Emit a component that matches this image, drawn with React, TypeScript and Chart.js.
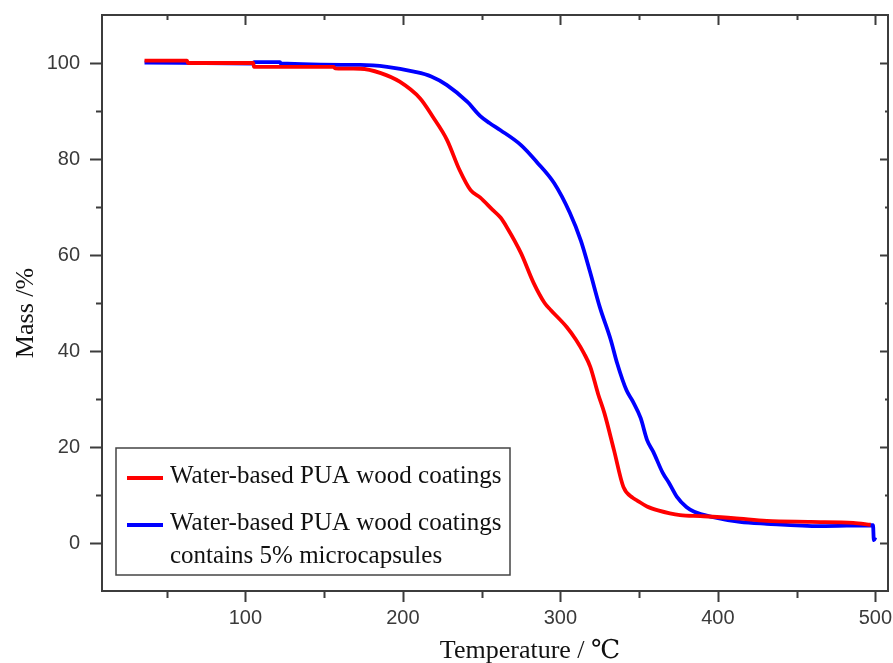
import React, { useEffect, useRef } from "react";
import { Chart, registerables } from "chart.js";

Chart.register(...registerables);

// Water-based PUA wood coatings (red)
const redTemp = [36, 63, 63.5, 105, 105.5, 156, 157, 173, 186, 198, 211, 219, 228, 236, 243, 249, 257, 262, 266, 275, 283, 290, 294, 304, 310, 315, 319, 324, 328, 334, 340, 346, 349, 355, 362, 376, 389, 410, 431, 459, 486, 497];
const redMass = [100.5, 100.5, 100.0, 100.0, 99.2, 99.2, 98.9, 98.8, 97.9, 96.1, 92.6, 88.8, 84.0, 77.7, 73.5, 72.0, 69.4, 67.8, 65.8, 60.4, 54.2, 50.0, 48.5, 45.0, 42.3, 39.5, 36.7, 31.0, 27.0, 19.4, 11.7, 9.4, 8.8, 7.6, 6.8, 5.8, 5.6, 5.2, 4.6, 4.4, 4.2, 3.8];

// Water-based PUA wood coatings contains 5% microcapsules (blue)
const blueTemp = [36, 105, 105.5, 122, 122.5, 173, 190, 207, 218, 228, 241, 249, 255, 262, 275, 285, 296, 306, 313, 319, 325, 332, 336, 342, 346, 351, 355, 359, 365, 369, 374, 380, 385, 397, 414, 431, 465, 498.5, 499, 500];
const blueMass = [100.1, 99.9, 100.2, 100.2, 99.9, 99.6, 99.2, 98.2, 97.2, 95.4, 91.9, 89.0, 87.5, 86.0, 82.9, 79.4, 75.0, 68.8, 63.0, 56.3, 49.2, 42.3, 37.5, 31.8, 29.5, 26.0, 21.5, 19.0, 14.6, 12.5, 9.6, 7.5, 6.5, 5.4, 4.4, 4.0, 3.5, 3.7, 0.6, 1.2];

const xLabelTicks = [100, 200, 300, 400, 500];
const yLabelTicks = [0, 20, 40, 60, 80, 100];
const seriesLabels = [
  ["Water-based PUA wood coatings"],
  ["Water-based PUA wood coatings", "contains 5% microcapsules"],
];
const seriesColors = ["#ff0000", "#0000ff"];
const xTitle = "Temperature / \u2103";
const yTitle = "Mass /%";

const AXIS_COLOR = "#3c3c3c";
const SERIF = "'Liberation Serif', 'Times New Roman', 'DejaVu Serif', serif";
const SANS = "'Liberation Sans', Arial, sans-serif";

const zeroPadding = (scale: any) => {
  scale.paddingLeft = 0;
  scale.paddingRight = 0;
  scale.paddingTop = 0;
  scale.paddingBottom = 0;
};

const framePlugin = {
  id: "originFrame",
  afterDraw(chart: any) {
    const { ctx, chartArea, scales } = chart;
    const { left, right, top, bottom } = chartArea;
    const xs = scales.x;
    const ys = scales.y;
    ctx.save();
    ctx.strokeStyle = AXIS_COLOR;
    ctx.lineWidth = 2;
    ctx.strokeRect(left, top, right - left, bottom - top);

    // x ticks (bottom outward, top inward)
    for (let v = 50; v <= 500; v += 50) {
      const px = Math.round(xs.getPixelForValue(v)) + 0.5;
      const major = v % 100 === 0;
      ctx.beginPath();
      ctx.moveTo(px, bottom);
      ctx.lineTo(px, bottom + (major ? 11 : 7));
      ctx.moveTo(px, top);
      ctx.lineTo(px, top + (major ? 10 : 5));
      ctx.stroke();
    }
    // y ticks (left outward, right inward)
    for (let v = 0; v <= 100; v += 10) {
      const py = Math.round(ys.getPixelForValue(v)) + 0.5;
      const major = v % 20 === 0;
      ctx.beginPath();
      ctx.moveTo(left, py);
      ctx.lineTo(left - (major ? 12 : 6), py);
      ctx.moveTo(right, py);
      ctx.lineTo(right - (major ? 8 : 3), py);
      ctx.stroke();
    }

    // Axis titles
    ctx.fillStyle = "#111";
    ctx.font = `26px ${SERIF}`;
    ctx.textAlign = "center";
    ctx.textBaseline = "alphabetic";
    ctx.fillText(xTitle, 530, 658);
    ctx.save();
    ctx.translate(33, 313);
    ctx.rotate(-Math.PI / 2);
    ctx.fillText(yTitle, 0, 0);
    ctx.restore();

    // Legend box
    const bx = left + 14;
    const by = ys.getPixelForValue(20) + 1;
    const bw = 394;
    const bh = 127;
    ctx.fillStyle = "#ffffff";
    ctx.fillRect(bx, by, bw, bh);
    ctx.lineWidth = 1.5;
    ctx.strokeStyle = "#444";
    ctx.strokeRect(bx, by, bw, bh);

    ctx.font = `25px ${SERIF}`;
    ctx.textAlign = "left";
    ctx.textBaseline = "alphabetic";
    const lineGap = 33;
    let baseline = by + 35;
    chart.data.datasets.forEach((ds: any, i: number) => {
      const lines: string[] = seriesLabels[i];
      ctx.strokeStyle = ds.borderColor;
      ctx.lineWidth = 4;
      ctx.beginPath();
      ctx.moveTo(bx + 11, baseline - 5);
      ctx.lineTo(bx + 47, baseline - 5);
      ctx.stroke();
      ctx.fillStyle = "#111";
      lines.forEach((t, j) => {
        ctx.fillText(t, bx + 54, baseline + j * lineGap);
      });
      baseline += lines.length * lineGap + 14;
    });
    ctx.restore();
  },
};

export default function App() {
  const canvasRef = useRef<HTMLCanvasElement | null>(null);

  useEffect(() => {
    document.body.style.margin = "0";
    const canvas = canvasRef.current;
    if (!canvas) return;
    const chart = new Chart(canvas, {
      type: "line",
      data: {
        datasets: [
          {
            label: seriesLabels[0].join(" "),
            data: redTemp.map((t, i) => ({ x: t, y: redMass[i] })),
            borderColor: seriesColors[0],
            backgroundColor: seriesColors[0],
            borderWidth: 3.8,
            pointRadius: 0,
            cubicInterpolationMode: "monotone",
          },
          {
            label: seriesLabels[1].join(" "),
            data: blueTemp.map((t, i) => ({ x: t, y: blueMass[i] })),
            borderColor: seriesColors[1],
            backgroundColor: seriesColors[1],
            borderWidth: 3.8,
            pointRadius: 0,
            cubicInterpolationMode: "monotone",
          },
        ],
      },
      options: {
        animation: false,
        responsive: true,
        maintainAspectRatio: false,
        layout: { padding: { top: 15, right: 5, left: 0, bottom: 0 } },
        plugins: {
          legend: { display: false },
          tooltip: { enabled: false },
        },
        scales: {
          x: {
            type: "linear",
            min: 9,
            max: 508,
            grid: { display: false, drawTicks: false },
            border: { display: false },
            afterFit: (scale: any) => {
              scale.height = 72;
              zeroPadding(scale);
            },
            afterBuildTicks: (scale: any) => {
              scale.ticks = xLabelTicks.map((v) => ({ value: v }));
            },
            ticks: {
              autoSkip: false,
              maxRotation: 0,
              padding: 15,
              color: "#3a3a3a",
              font: { family: SANS, size: 20 },
              callback: (v: any) => String(v),
            },
          },
          y: {
            type: "linear",
            min: -10,
            max: 110,
            grid: { display: false, drawTicks: false },
            border: { display: false },
            afterFit: (scale: any) => {
              scale.width = 102;
              zeroPadding(scale);
            },
            afterBuildTicks: (scale: any) => {
              scale.ticks = yLabelTicks.map((v) => ({ value: v }));
            },
            ticks: {
              autoSkip: false,
              padding: 22,
              color: "#3a3a3a",
              font: { family: SANS, size: 20 },
              callback: (v: any) => String(v),
            },
          },
        },
      },
      plugins: [framePlugin],
    });
    return () => chart.destroy();
  }, []);

  return (
    <div style={{ position: "fixed", left: 0, top: 0, width: 893, height: 663, background: "#fff" }}>
      <canvas ref={canvasRef} />
    </div>
  );
}
